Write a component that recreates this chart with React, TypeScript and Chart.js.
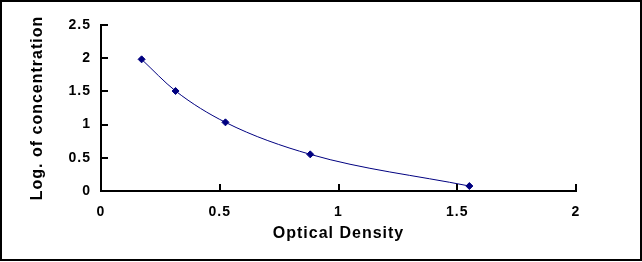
import React, { useEffect, useRef } from "react";
import { Chart, registerables } from "chart.js";

Chart.register(...registerables);

const opticalDensity = [0.171, 0.314, 0.524, 0.881, 1.551];
const logConcentration = [1.983, 1.506, 1.034, 0.552, 0.075];
const xTicks = [0, 0.5, 1, 1.5, 2];
const yTicks = [0, 0.5, 1, 1.5, 2, 2.5];
const xTitle = "Optical Density";
const yTitle = "Log. of concentration";

const FONT = "Arial, 'Liberation Sans', sans-serif";

const framePlugin = {
  id: "frame",
  beforeDraw(chart: any) {
    chart.ctx.letterSpacing = "1px";
  },
  afterDraw(chart: any) {
    const { ctx, scales } = chart;
    const xs = scales.x;
    const ys = scales.y;
    const area = chart.chartArea;
    ctx.save();
    ctx.strokeStyle = "#000";
    ctx.lineWidth = 2;
    ctx.beginPath();
    for (const v of xTicks) {
      const px = Math.round(xs.getPixelForValue(v));
      ctx.moveTo(px, area.bottom);
      ctx.lineTo(px, area.bottom - 7);
    }
    for (const v of yTicks) {
      const py = Math.round(ys.getPixelForValue(v));
      ctx.moveTo(area.left, py);
      ctx.lineTo(area.left + 7, py);
    }
    ctx.stroke();
    ctx.lineWidth = 2;
    ctx.strokeRect(1, 1, chart.width - 2, chart.height - 3);
    ctx.restore();
  },
};

export default function App() {
  const ref = useRef<HTMLCanvasElement | null>(null);
  useEffect(() => {
    document.body.style.margin = "0";
    if (!ref.current) return;
    const chart = new Chart(ref.current, {
      type: "scatter",
      data: {
        datasets: [
          {
            data: opticalDensity.map((x, i) => ({ x, y: logConcentration[i] })),
            showLine: true,
            borderColor: "#000080",
            borderWidth: 1,
            backgroundColor: "#000080",
            pointBackgroundColor: "#000080",
            pointBorderColor: "#000080",
            pointStyle: "rectRot",
            pointRadius: 3.5,
            cubicInterpolationMode: "monotone",
          } as any,
        ],
      },
      options: {
        animation: false,
        responsive: false,
        events: [],
        layout: { padding: { left: 0, right: 66, top: 25, bottom: 0 } },
        plugins: { legend: { display: false }, tooltip: { enabled: false } },
        scales: {
          x: {
            type: "linear",
            min: 0,
            max: 2,
            afterFit: (s: any) => {
              s.height = 71;
            },
            afterBuildTicks: (s: any) => {
              s.ticks = xTicks.map((v) => ({ value: v }));
            },
            grid: { display: true, drawOnChartArea: false, drawTicks: false, color: "rgba(0,0,0,0)" },
            border: { display: true, color: "#000", width: 2 },
            ticks: {
              color: "#000",
              padding: 13,
              maxRotation: 0,
              font: { family: FONT, size: 14, weight: "bold" },
              callback: (v: any) => String(v),
            },
            title: {
              display: true,
              text: xTitle,
              color: "#000",
              padding: { top: 0, bottom: 19 },
              font: { family: FONT, size: 16, weight: "bold" },
            },
          },
          y: {
            type: "linear",
            min: 0,
            max: 2.5,
            afterFit: (s: any) => {
              s.width = 101;
            },
            afterBuildTicks: (s: any) => {
              s.ticks = yTicks.map((v) => ({ value: v }));
            },
            grid: { display: true, drawOnChartArea: false, drawTicks: false, color: "rgba(0,0,0,0)" },
            border: { display: true, color: "#000", width: 2 },
            ticks: {
              color: "#000",
              padding: 10,
              font: { family: FONT, size: 14, weight: "bold" },
              callback: (v: any) => String(v),
            },
            title: {
              display: true,
              text: yTitle,
              color: "#000",
              padding: { top: 28, bottom: 0 },
              font: { family: FONT, size: 16, weight: "bold" },
            },
          },
        },
      },
      plugins: [framePlugin],
    } as any);
    return () => chart.destroy();
  }, []);
  return (
    <div style={{ position: "fixed", left: 0, top: 0, width: 642, height: 262, background: "#fff" }}>
      <canvas ref={ref} width={642} height={262} style={{ display: "block" }} />
    </div>
  );
}
